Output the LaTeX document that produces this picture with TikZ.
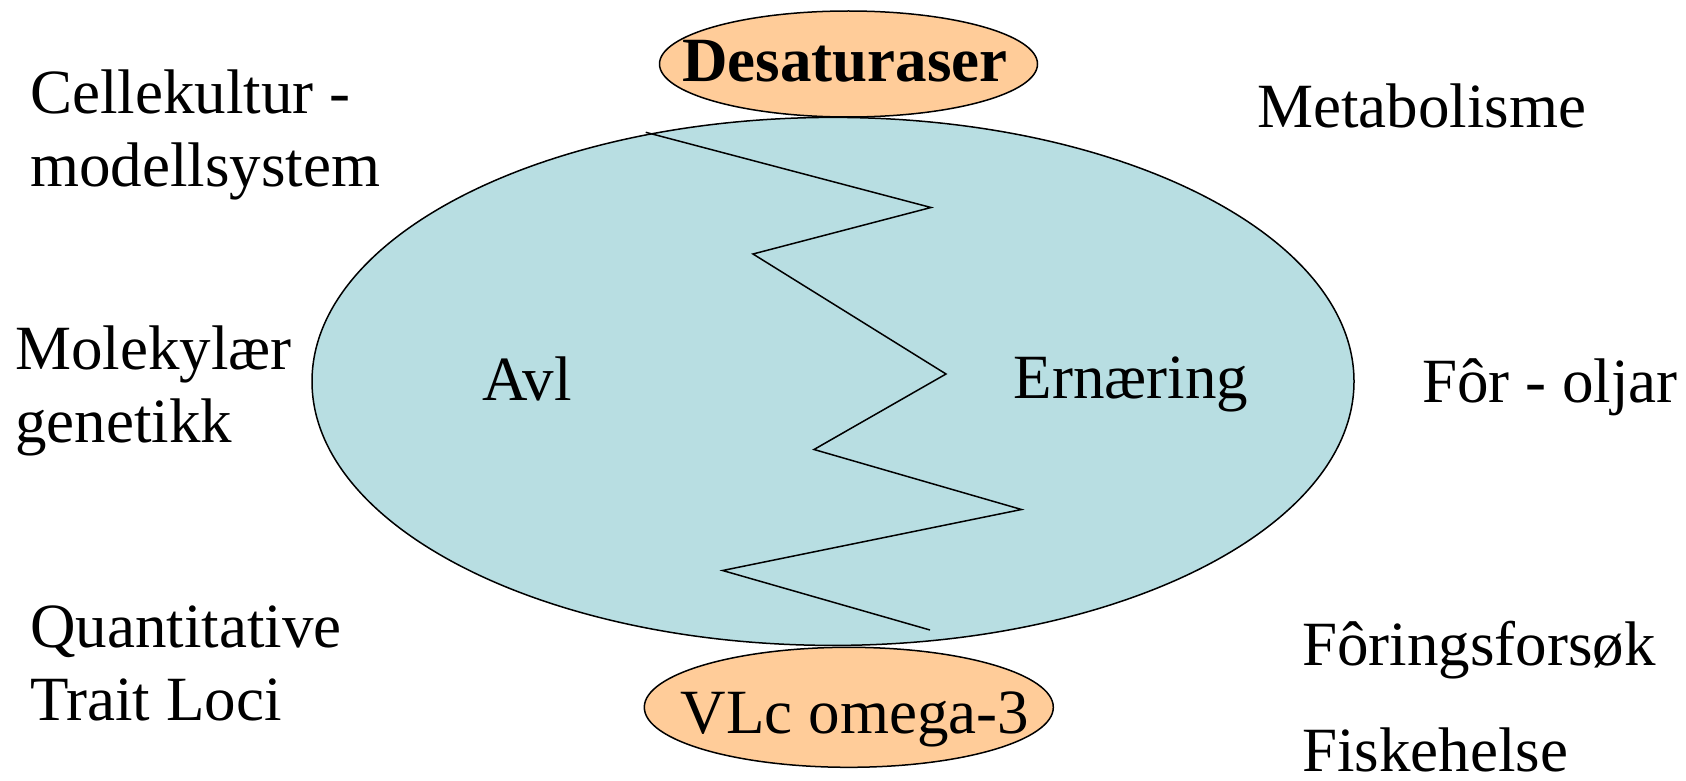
\documentclass[tikz,border=0pt]{standalone}
\usepackage{fontspec}
\setmainfont{Liberation Serif}
\usepackage{tikz}
\usetikzlibrary{shapes.geometric}
\definecolor{fishblue}{RGB}{184,222,226}
\definecolor{oilorange}{RGB}{255,204,153}
\tikzset{
	pill/.style={ellipse,draw=black,line width=1.5pt,fill=oilorange,inner sep=0pt},
	lbl/.style={inner sep=0pt,align=left,font=\fontsize{63}{73}\selectfont}
}

\begin{document}
\begin{tikzpicture}[x=1pt,y=-1pt]
	\useasboundingbox (0,0) rectangle (1686,781);
	\node[ellipse,draw=black,line width=1.5pt,fill=fishblue,minimum width=1042pt,minimum height=528pt,inner sep=0pt] (fisk) at (833,381.4) {}; % stor ellipse
	\draw[line width=1.5pt,line join=miter] (645.7,132.3) -- (931,207.5) -- (753,254) -- (946,374) -- (814,449.5) -- (1021.5,509.5) -- (722.6,570.5) -- (930,630); % skillelinje
	\node[pill,minimum width=378pt,minimum height=106pt] (desat) at (848.5,64) {};
	\node[pill,minimum width=409pt,minimum height=120pt] (omega) at (848.8,707.3) {};
	\node[lbl,anchor=base,font=\fontsize{63}{73}\selectfont\bfseries] (desattxt) at (845,82) {Desaturaser};
	\node[lbl,anchor=base] (omegatxt) at (855,733) {VLc omega-3};
	\node[lbl,anchor=base] (avl) at (527,400) {Avl};
	\node[lbl,anchor=base] (ernaering) at (1131,398) {Ernæring};
	\node[lbl,anchor=base west] (celle) at (30,186) {Cellekultur -\\modellsystem};
	\node[lbl,anchor=base west] (mol) at (15,442) {Molekylær\\genetikk};
	\node[lbl,anchor=base west] (qtl) at (30,720) {Quantitative\\Trait Loci};
	\node[lbl,anchor=base west] (meta) at (1257,128) {Metabolisme};
	\node[lbl,anchor=base west] (forolje) at (1422,402) {Fôr - oljar};
	\node[lbl,anchor=base west] (foring) at (1302,665) {Fôringsforsøk};
	\node[lbl,anchor=base west] (helse) at (1302,771) {Fiskehelse};
\end{tikzpicture}
\end{document}
